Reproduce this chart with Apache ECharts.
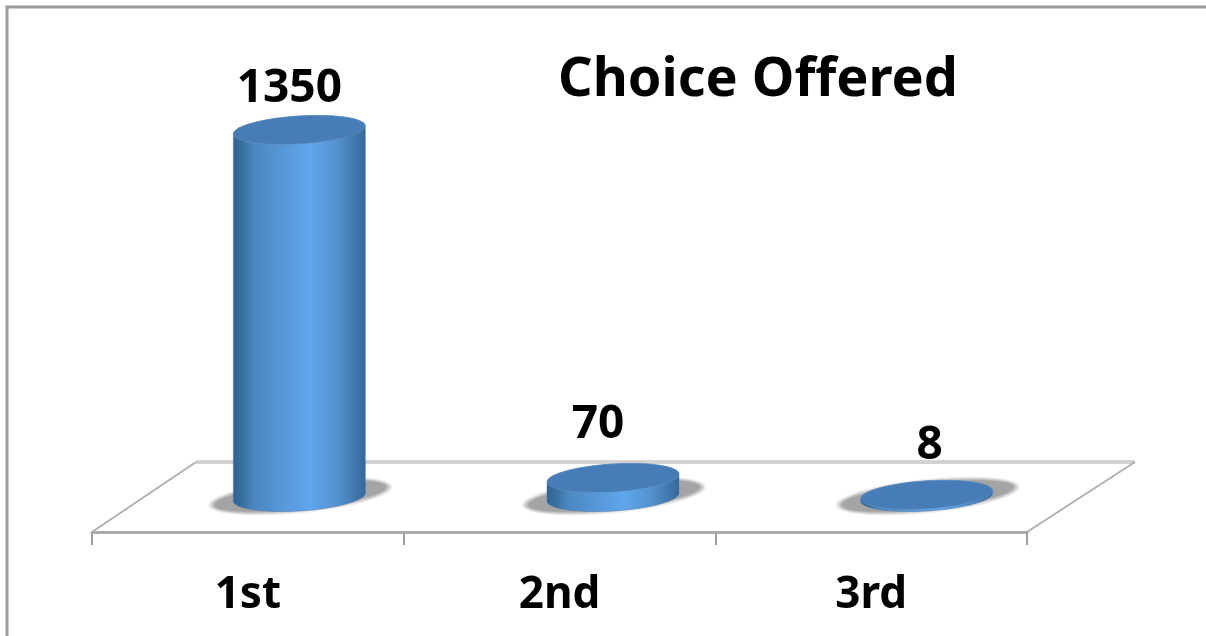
<!DOCTYPE html>
<html>
<head>
<meta charset="utf-8">
<title>Choice Offered</title>
<script src="https://cdn.jsdelivr.net/npm/echarts@6/dist/echarts.min.js"></script>
<style>
	html, body { margin: 0; padding: 0; background: #fff; overflow: hidden; }
	/* the original is an enlarged screenshot, everything in it is a bit soft */
	#chart { width: 1206px; height: 636px; filter: blur(0.6px); }
</style>
</head>
<body>
<div id="chart"></div>
<script>
const categories = ["1st", "2nd", "3rd"];
const choiceValues = [1350, 70, 8];
const valueMax = 1600;

const fontFamily = '"Noto Sans", "Open Sans", sans-serif';
const textStyle = { fontFamily: fontFamily, fontWeight: "bold", fontSize: 46, fill: "#000" };

// the fake 3d floor: how far the back edge sits from the axis line
const depthX = 104;
const depthY = 70;
// cylinders stand half way back on the floor
const baseX = 53.5;
const baseY = 35;
const barRx = 66;
const barRy = 14;
const barSkew = 4;
// hand nudges, the original chart is not quite regular
const barNudge = [-2, 0, 2];
const labelNudge = [[-10, -41], [-15, -53], [3, -49]];

const sideGradient = {
	type: "linear", x: 0, y: 0, x2: 1, y2: 0,
	colorStops: [
		{ offset: 0, color: "#2f6394" },
		{ offset: 0.07, color: "#37709f" },
		{ offset: 0.16, color: "#4b87c0" },
		{ offset: 0.35, color: "#5596d6" },
		{ offset: 0.58, color: "#5fa6ec" },
		{ offset: 0.78, color: "#5393d0" },
		{ offset: 0.93, color: "#3f76a8" },
		{ offset: 1, color: "#33689a" }
	]
};

// skewed ellipse, right end higher than the left one. from/to in radians
function ellipsePoints(cx, cy, rx, ry, skew, from, to) {
	let points = [];
	for (let i = 0; i <= 48; i++) {
		let t = from + ((to - from) * i) / 48;
		points.push([cx + rx * Math.cos(t), cy + ry * Math.sin(t) - skew * Math.cos(t)]);
	}
	return points;
}

// soft floor shadow, a few stacked ellipses from pale to dark
function shadowLayers(cx, cy) {
	let layers = [
		{ grow: 6, fill: "#ececec" },
		{ grow: 4, fill: "#d4d4d4" },
		{ grow: 2, fill: "#bcbcbc" },
		{ grow: 0, fill: "#a4a4a4" }
	];
	return layers.map((layer) => ({
		type: "polygon",
		shape: { points: ellipsePoints(cx + 1, cy - 1, barRx + 20 + layer.grow, 13 + layer.grow * 0.7, 9, 0, Math.PI * 2) },
		style: { fill: layer.fill }
	}));
}

function renderFloor(params) {
	let rect = params.coordSys;
	let left = rect.x;
	let right = rect.x + rect.width;
	let front = rect.y + rect.height;
	let back = front - depthY;
	let edge = { stroke: "#b0b0b0", lineWidth: 2 };
	return {
		type: "group",
		children: [
			{ type: "line", shape: { x1: left + depthX, y1: back, x2: right + depthX + 4, y2: back }, style: { stroke: "#d2d2d2", lineWidth: 4 } },
			{ type: "line", shape: { x1: left, y1: front, x2: left + depthX, y2: back }, style: edge },
			{ type: "line", shape: { x1: right, y1: front, x2: right + depthX + 4, y2: back }, style: edge }
		]
	};
}

function renderCylinder(params, api) {
	let index = api.value(0);
	let top = api.coord([index, api.value(1)]);
	let zero = api.coord([index, 0]);
	let cx = top[0] + baseX + barNudge[index];
	let baseCy = zero[1] - baseY;
	let topCy = top[1] - baseY;
	let body = ellipsePoints(cx, baseCy, barRx, barRy, barSkew, Math.PI, 0).concat(
		ellipsePoints(cx, topCy, barRx, barRy, barSkew, 0, -Math.PI)
	);
	return {
		type: "group",
		children: shadowLayers(cx, baseCy).concat([
			{
				type: "polygon",
				shape: { points: body },
				style: { fill: sideGradient, stroke: "rgba(70,120,170,0.45)", lineWidth: 1 }
			},
			{
				type: "polygon",
				shape: { points: ellipsePoints(cx, topCy, barRx, barRy, barSkew, 0, Math.PI * 2) },
				style: { fill: "#477db6", stroke: "rgba(110,150,195,0.5)", lineWidth: 1 }
			},
			{
				type: "text",
				style: Object.assign({}, textStyle, {
					text: String(api.value(1)),
					x: cx + labelNudge[index][0],
					y: topCy + labelNudge[index][1],
					align: "center",
					verticalAlign: "middle"
				})
			}
		])
	};
}

let myChart = echarts.init(document.getElementById("chart"), null, { renderer: "canvas" });
let option = {
	animation: false,
	backgroundColor: "#fff",
	title: {
		text: "Choice Offered",
		left: 753,
		top: 49,
		textAlign: "center",
		textStyle: { fontFamily: fontFamily, fontWeight: "bold", fontSize: 54, color: "#000" }
	},
	graphic: [
		{
			type: "polyline",
			shape: { points: [[7, 640], [7, 7], [1210, 7]] },
			style: { fill: null, stroke: "#9c9c9c", lineWidth: 3 }
		}
	],
	grid: { left: 92, right: 179, top: 97, bottom: 104 },
	xAxis: {
		type: "category",
		data: categories,
		axisLine: { lineStyle: { color: "#ababab", width: 3 } },
		axisTick: { show: true, alignWithLabel: false, length: 13, lineStyle: { color: "#a0a0a0", width: 2 } },
		axisLabel: { margin: 41, color: "#000", fontFamily: fontFamily, fontWeight: "bold", fontSize: 44 }
	},
	yAxis: {
		type: "value",
		min: 0,
		max: valueMax,
		show: false
	},
	series: [
		{
			type: "custom",
			renderItem: renderFloor,
			data: [[0, 0]],
			silent: true,
			clip: false,
			z: 1
		},
		{
			type: "custom",
			renderItem: renderCylinder,
			encode: { x: 0, y: 1 },
			data: choiceValues.map((value, index) => [index, value]),
			clip: false,
			z: 2
		}
	]
};
myChart.setOption(option);
</script>
</body>
</html>
